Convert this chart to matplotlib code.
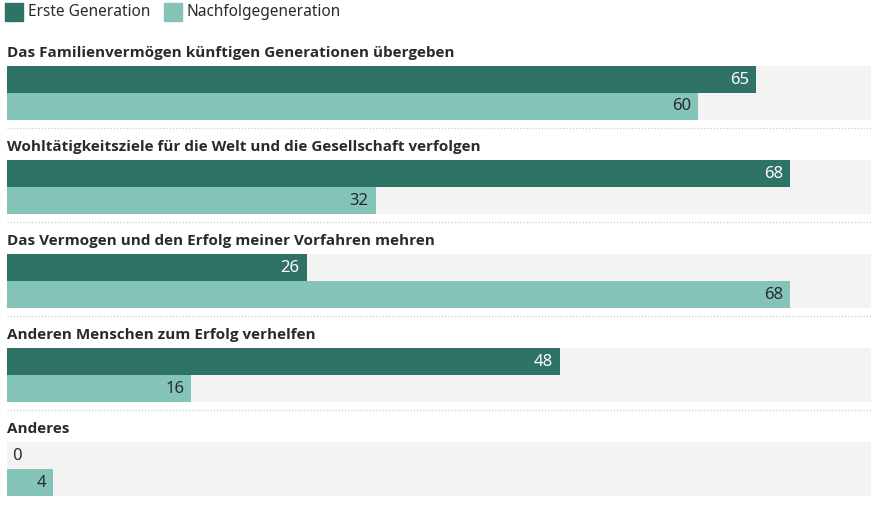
import matplotlib
matplotlib.use("Agg")
import matplotlib.pyplot as plt
from matplotlib.patches import Rectangle

categories = [
    "Das Familienvermögen künftigen Generationen übergeben",
    "Wohltätigkeitsziele für die Welt und die Gesellschaft verfolgen",
    "Das Vermogen und den Erfolg meiner Vorfahren mehren",
    "Anderen Menschen zum Erfolg verhelfen",
    "Anderes",
]
series_names = ["Erste Generation", "Nachfolgegeneration"]
erste = [65, 68, 26, 48, 0]
nachfolge = [60, 32, 68, 16, 4]

colors = ["#2f7367", "#84c4b8"]
label_colors = ["white", "#2a2a2a"]
bg_color = "#f3f3f3"
text_color = "#2a2a2a"
xmax = 75

plt.rcParams['font.family'] = ['Noto Sans', 'DejaVu Sans']

W, H = 873, 526
fig = plt.figure(figsize=(W / 100, H / 100), dpi=100)
left_px, right_px = 7, 871
ax = fig.add_axes([left_px / W, 0, (right_px - left_px) / W, 1])
ax.set_xlim(0, xmax)
ax.set_ylim(H, 0)
ax.axis("off")

group_step = 94.2
first_bar_top = 65.5
bar_h = 27
label_offset = 9

for i, cat in enumerate(categories):
    top = first_bar_top + i * group_step
    ax.text(0, top - label_offset, cat, fontsize=10.95, fontweight="bold",
            family=['Open Sans', 'DejaVu Sans'],
            color=text_color, va="baseline", ha="left")
    for j, vals in enumerate([erste, nachfolge]):
        y0 = top + j * bar_h
        ax.barh(y0 + bar_h / 2, xmax, height=bar_h, color=bg_color, left=0)
        ax.barh(y0 + bar_h / 2, vals[i], height=bar_h, color=colors[j], left=0)
        v = vals[i]
        if v >= 3:
            ax.text(v - 0.6, y0 + bar_h / 2 + 0.5, f"{v}", ha="right", va="center",
                    fontsize=12, color=label_colors[j])
        else:
            ax.text(v + 0.45, y0 + bar_h / 2 + 0.5, f"{v}", ha="left", va="center",
                    fontsize=12, color=text_color)
    if i < len(categories) - 1:
        ysep = top + 2 * bar_h + 8
        ax.plot([0, xmax], [ysep, ysep], color="#cccccc", lw=0.9,
                linestyle=(0, (1, 1.5)))

# legend
for j, name in enumerate(series_names):
    x0 = [5, 164][j]
    fig.patches.append(Rectangle((x0 / W, 1 - 21 / H), 18 / W, 18 / H,
                                 transform=fig.transFigure, color=colors[j]))
    fig.text((x0 + 23) / W, 1 - 12.5 / H, name, fontsize=11.1, color=text_color,
             va="center", ha="left")

fig.savefig("out.png", dpi=100)
